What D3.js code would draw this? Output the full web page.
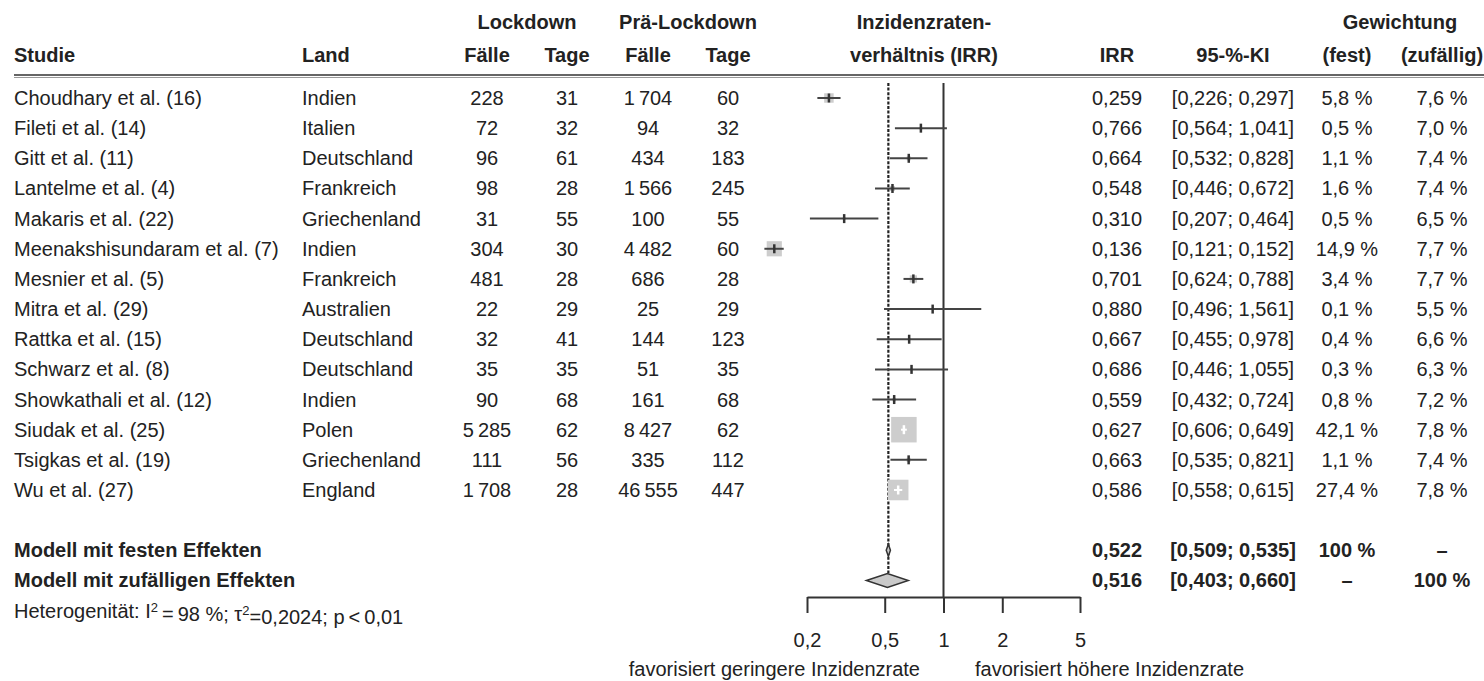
<!DOCTYPE html>
<html>
<head>
<meta charset="utf-8">
<script src="https://cdn.jsdelivr.net/npm/d3@7"></script>
<style>
  body { margin: 0; background: #fff; }
  text { font-family: "Liberation Sans", Arial, sans-serif; font-size: 20px; fill: #222; }
  .bold { font-weight: bold; }
</style>
</head>
<body>
<div id="plot"></div>
<script>
// Study data
var studies = ["Choudhary et al. (16)", "Fileti et al. (14)", "Gitt et al. (11)", "Lantelme et al. (4)",
  "Makaris et al. (22)", "Meenakshisundaram et al. (7)", "Mesnier et al. (5)", "Mitra et al. (29)",
  "Rattka et al. (15)", "Schwarz et al. (8)", "Showkathali et al. (12)", "Siudak et al. (25)",
  "Tsigkas et al. (19)", "Wu et al. (27)"];
var countries = ["Indien", "Italien", "Deutschland", "Frankreich", "Griechenland", "Indien", "Frankreich",
  "Australien", "Deutschland", "Deutschland", "Indien", "Polen", "Griechenland", "England"];
var lockCases = [228, 72, 96, 98, 31, 304, 481, 22, 32, 35, 90, 5285, 111, 1708];
var lockDays  = [31, 32, 61, 28, 55, 30, 28, 29, 41, 35, 68, 62, 56, 28];
var preCases  = [1704, 94, 434, 1566, 100, 4482, 686, 25, 144, 51, 161, 8427, 335, 46555];
var preDays   = [60, 32, 183, 245, 55, 60, 28, 29, 123, 35, 68, 62, 112, 447];
var irr       = [0.259, 0.766, 0.664, 0.548, 0.310, 0.136, 0.701, 0.880, 0.667, 0.686, 0.559, 0.627, 0.663, 0.586];
var irrLower  = [0.226, 0.564, 0.532, 0.446, 0.207, 0.121, 0.624, 0.496, 0.455, 0.446, 0.432, 0.606, 0.535, 0.558];
var irrUpper  = [0.297, 1.041, 0.828, 0.672, 0.464, 0.152, 0.788, 1.561, 0.978, 1.055, 0.724, 0.649, 0.821, 0.615];
var wFixed    = [5.8, 0.5, 1.1, 1.6, 0.5, 14.9, 3.4, 0.1, 0.4, 0.3, 0.8, 42.1, 1.1, 27.4];
var wRandom   = [7.6, 7.0, 7.4, 7.4, 6.5, 7.7, 7.7, 5.5, 6.6, 6.3, 7.2, 7.8, 7.4, 7.8];

// Pooled estimates
var summaryLabels  = ["Modell mit festen Effekten", "Modell mit zufälligen Effekten"];
var summaryIrr     = [0.522, 0.516];
var summaryLower   = [0.509, 0.403];
var summaryUpper   = [0.535, 0.660];
var summaryWFixed  = [100, null];
var summaryWRandom = [null, 100];

var axisTicks = [0.2, 0.5, 1, 2, 5];

var width = 1484, height = 681;

var svg = d3.select("#plot")
  .append("svg")
    .attr("width", width)
    .attr("height", height);

// German number formatting
var de = d3.formatLocale({decimal: ",", thousands: "\u2009", grouping: [3], currency: ["", ""]});
var fInt = de.format(",d"),
    f3 = de.format(".3f"),
    f1 = de.format(".1f"),
    fTick = de.format("~g");

// Scales
var x = d3.scaleLog().domain([0.2, 5]).range([807, 1080]);
var rowY = d3.scaleLinear().domain([0, 13]).range([98, 490]);
var boxSize = d3.scaleSqrt().domain([0, 42.1]).range([0, 25.5]);

var rows = studies.map(function(s, i) {
  return {study: s, country: countries[i], lc: lockCases[i], ld: lockDays[i], pc: preCases[i], pd: preDays[i],
    irr: irr[i], lo: irrLower[i], hi: irrUpper[i], wf: wFixed[i], wr: wRandom[i], y: rowY(i)};
});

// Header
var header = svg.append("g");
function headText(txt, xPos, yPos, anchor) {
  header.append("text").attr("class", "bold")
    .attr("x", xPos).attr("y", yPos).attr("dy", "0.35em")
    .attr("text-anchor", anchor || "middle").text(txt);
}
headText("Lockdown", 527, 22);
headText("Prä-Lockdown", 688, 22);
headText("Inzidenzraten-", 924, 22);
headText("Gewichtung", 1400, 22);
headText("Studie", 14, 55, "start");
headText("Land", 302, 55, "start");
headText("Fälle", 487, 55);
headText("Tage", 567, 55);
headText("Fälle", 648, 55);
headText("Tage", 728, 55);
headText("verhältnis (IRR)", 924, 55);
headText("IRR", 1117, 55);
headText("95-%-KI", 1233, 55);
headText("(fest)", 1347, 55);
headText("(zufällig)", 1442, 55);

header.append("line").attr("x1", 14).attr("x2", width).attr("y1", 75).attr("y2", 75)
  .attr("stroke", "#333").attr("stroke-width", 1.6);
header.append("line").attr("x1", 14).attr("x2", width).attr("y1", 77.5).attr("y2", 77.5)
  .attr("stroke", "#999").attr("stroke-width", 1);

// Table columns
var columns = [
  {x: 14, anchor: "start", value: d => d.study},
  {x: 302, anchor: "start", value: d => d.country},
  {x: 487, anchor: "middle", value: d => fInt(d.lc)},
  {x: 567, anchor: "middle", value: d => fInt(d.ld)},
  {x: 648, anchor: "middle", value: d => fInt(d.pc)},
  {x: 728, anchor: "middle", value: d => fInt(d.pd)},
  {x: 1117, anchor: "middle", value: d => f3(d.irr)},
  {x: 1233, anchor: "middle", value: d => "[" + f3(d.lo) + "; " + f3(d.hi) + "]"},
  {x: 1347, anchor: "middle", value: d => f1(d.wf) + " %"},
  {x: 1442, anchor: "middle", value: d => f1(d.wr) + " %"}
];

var table = svg.append("g");
columns.forEach(function(col) {
  table.selectAll(null)
    .data(rows)
    .enter().append("text")
      .attr("x", col.x)
      .attr("y", d => d.y)
      .attr("dy", "0.35em")
      .attr("text-anchor", col.anchor)
      .text(col.value);
});

// Summary rows
var sumRows = summaryLabels.map(function(l, i) {
  return {label: l, irr: summaryIrr[i], lo: summaryLower[i], hi: summaryUpper[i],
    wf: summaryWFixed[i], wr: summaryWRandom[i], y: rowY(15 + i)};
});
var sumCols = [
  {x: 14, anchor: "start", value: d => d.label},
  {x: 1117, anchor: "middle", value: d => f3(d.irr)},
  {x: 1233, anchor: "middle", value: d => "[" + f3(d.lo) + "; " + f3(d.hi) + "]"},
  {x: 1347, anchor: "middle", value: d => d.wf == null ? "–" : de.format("d")(d.wf) + " %"},
  {x: 1442, anchor: "middle", value: d => d.wr == null ? "–" : de.format("d")(d.wr) + " %"}
];
sumCols.forEach(function(col) {
  table.selectAll(null)
    .data(sumRows)
    .enter().append("text")
      .attr("class", "bold")
      .attr("x", col.x)
      .attr("y", d => d.y)
      .attr("dy", "0.35em")
      .attr("text-anchor", col.anchor)
      .text(col.value);
});

// Heterogeneity line
var het = table.append("text")
  .attr("x", 14).attr("y", rowY(17)).attr("dy", "0.35em");
het.append("tspan").text("Heterogenität: I");
het.append("tspan").attr("dy", "-0.45em").style("font-size", "13px").text("2");
het.append("tspan").attr("dy", "0.45em").text("\u2009=\u200998 %; τ");
het.append("tspan").attr("dy", "-0.45em").style("font-size", "13px").text("2");
het.append("tspan").attr("dy", "0.45em").text("=0,2024; p\u2009<\u20090,01");

// Forest plot
var forest = svg.append("g");
var axisY = 597;

// Reference lines
forest.append("line")
  .attr("x1", x(1)).attr("x2", x(1)).attr("y1", 83).attr("y2", axisY)
  .attr("stroke", "#333").attr("stroke-width", 2);
forest.append("line")
  .attr("x1", x(summaryIrr[0])).attr("x2", x(summaryIrr[0])).attr("y1", 83).attr("y2", 573)
  .attr("stroke", "#222").attr("stroke-width", 2.2).attr("stroke-dasharray", "3,1.6");

// Squares sized by fixed weight
forest.selectAll(".box")
  .data(rows)
  .enter().append("rect")
    .attr("class", "box")
    .attr("x", d => x(d.irr) - boxSize(d.wf) / 2)
    .attr("y", d => d.y - boxSize(d.wf) / 2)
    .attr("width", d => boxSize(d.wf))
    .attr("height", d => boxSize(d.wf))
    .attr("fill", "#cdcdcd");

function inside(d) {
  var h = boxSize(d.wf) / 2;
  return x(d.lo) >= x(d.irr) - h && x(d.hi) <= x(d.irr) + h;
}

// Confidence intervals
forest.selectAll(".ci")
  .data(rows)
  .enter().append("line")
    .attr("class", "ci")
    .attr("x1", d => x(d.lo)).attr("x2", d => x(d.hi))
    .attr("y1", d => d.y).attr("y2", d => d.y)
    .attr("stroke", d => inside(d) ? "#fff" : "#444")
    .attr("stroke-width", 2);

// Point estimate marks
forest.selectAll(".est")
  .data(rows)
  .enter().append("line")
    .attr("class", "est")
    .attr("x1", d => x(d.irr)).attr("x2", d => x(d.irr))
    .attr("y1", d => d.y - 4.5).attr("y2", d => d.y + 4.5)
    .attr("stroke", d => inside(d) ? "#fff" : "#333")
    .attr("stroke-width", 2.5);

// Diamonds for pooled estimates
var halfH = [6, 7];
forest.selectAll(".diamond")
  .data(sumRows)
  .enter().append("path")
    .attr("class", "diamond")
    .attr("d", (d, i) => "M" + x(d.lo) + "," + d.y + "L" + x(d.irr) + "," + (d.y - halfH[i]) +
      "L" + x(d.hi) + "," + d.y + "L" + x(d.irr) + "," + (d.y + halfH[i]) + "Z")
    .attr("fill", "#cacaca")
    .attr("stroke", "#333")
    .attr("stroke-width", 1.5);

// X axis
var xAxis = forest.append("g")
  .attr("transform", `translate(0,${axisY})`)
  .call(d3.axisBottom(x).tickValues(axisTicks).tickFormat(fTick).tickSize(16).tickSizeOuter(0).tickPadding(20));
xAxis.select(".domain").attr("stroke", "#333").attr("stroke-width", 2);
xAxis.selectAll(".tick line").attr("stroke", "#333").attr("stroke-width", 2);
xAxis.selectAll(".tick text")
  .style("font-family", "'Liberation Sans', Arial, sans-serif")
  .style("font-size", "20px")
  .attr("fill", "#222");

// Direction labels
forest.append("text")
  .attr("x", 920).attr("y", 669).attr("dy", "0.35em")
  .attr("text-anchor", "end")
  .text("favorisiert geringere Inzidenzrate");
forest.append("text")
  .attr("x", 975).attr("y", 669).attr("dy", "0.35em")
  .attr("text-anchor", "start")
  .text("favorisiert höhere Inzidenzrate");
</script>
</body>
</html>
